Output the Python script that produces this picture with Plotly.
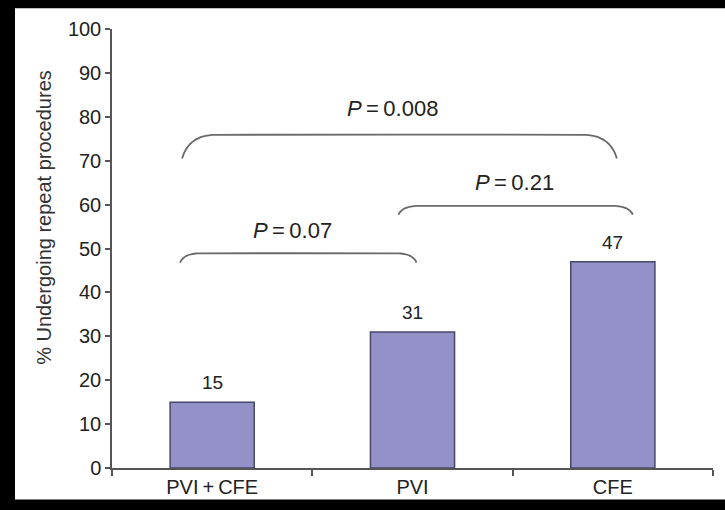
"""Repeat procedures by ablation strategy: bar chart with P-value brackets."""

import plotly.graph_objects as go

CATEGORIES = ["PVI\u2009+\u2009CFE", "PVI", "CFE"]
REPEAT_PCT = [15, 31, 47]

# comparison brackets: start/end in category units, flat height and end drop in %
BRACKET_X0 = [-0.15, 0.93, -0.16]
BRACKET_X1 = [2.02, 2.10, 1.02]
BRACKET_Y = [75.9, 59.7, 48.9]
BRACKET_DROP = [5.4, 2.0, 2.1]
P_LABELS = ["0.008", "0.21", "0.07"]
P_LABEL_X = [0.90, 1.51, 0.40]
P_LABEL_Y = [81.8, 65.1, 54.1]

Y_TICKS = list(range(0, 101, 10))

FONT = "Liberation Sans, Arial, Helvetica, sans-serif"
INK = "#222222"
AXIS = "#555555"


def bracket_path(x0, x1, y, drop, bend):
    """Points of a brace: curved ends dropping down, flat top."""
    pts_x, pts_y = [], []
    n = 14
    p0, c, p2 = (x0, y - drop), (x0 + bend * 0.2, y), (x0 + bend, y)
    for k in range(n + 1):
        t = k / n
        pts_x.append((1 - t) ** 2 * p0[0] + 2 * (1 - t) * t * c[0] + t ** 2 * p2[0])
        pts_y.append((1 - t) ** 2 * p0[1] + 2 * (1 - t) * t * c[1] + t ** 2 * p2[1])
    p0, c, p2 = (x1 - bend, y), (x1 - bend * 0.2, y), (x1, y - drop)
    for k in range(n + 1):
        t = k / n
        pts_x.append((1 - t) ** 2 * p0[0] + 2 * (1 - t) * t * c[0] + t ** 2 * p2[0])
        pts_y.append((1 - t) ** 2 * p0[1] + 2 * (1 - t) * t * c[1] + t ** 2 * p2[1])
    return pts_x, pts_y


x_idx = list(range(len(CATEGORIES)))

fig = go.Figure()
fig.add_trace(
    go.Bar(
        x=x_idx,
        y=REPEAT_PCT,
        width=0.42,
        marker=dict(color="#9490c8", line=dict(color="#48486a", width=1.5)),
        hoverinfo="x+y",
    )
)

for x0, x1, y, drop in zip(BRACKET_X0, BRACKET_X1, BRACKET_Y, BRACKET_DROP):
    bend = 0.17 if drop > 4 else 0.1
    bx, by = bracket_path(x0, x1, y, drop, bend)
    fig.add_trace(
        go.Scatter(
            x=bx, y=by, mode="lines",
            line=dict(color="#6a6a6a", width=1.8, shape="spline"),
            hoverinfo="skip",
        )
    )

annotations = []
for i, v in zip(x_idx, REPEAT_PCT):
    annotations.append(dict(
        x=i, y=v, xref="x", yref="y", text=str(v), showarrow=False,
        yanchor="bottom", yshift=7, font=dict(size=19, color=INK, family=FONT),
    ))
for txt, px, py in zip(P_LABELS, P_LABEL_X, P_LABEL_Y):
    annotations.append(dict(
        x=px, y=py, xref="x", yref="y", text=f"<i>P</i>\u2009=\u2009{txt}",
        showarrow=False, xanchor="center", yanchor="middle",
        font=dict(size=22, color=INK, family=FONT),
    ))
annotations.append(dict(
    x=-0.113, y=0.57, xref="paper", yref="paper",
    text="% Undergoing repeat procedures", textangle=-90, showarrow=False,
    xanchor="center", yanchor="middle",
    font=dict(size=20, color="#333333", family=FONT),
))

fig.update_layout(
    width=725,
    height=510,
    margin=dict(l=112, r=12, t=29, b=37),
    paper_bgcolor="black",
    plot_bgcolor="white",
    showlegend=False,
    annotations=annotations,
    shapes=[dict(
        type="rect", xref="paper", yref="paper",
        x0=-0.1614, x1=1.06, y0=-0.072, y1=1.047,
        fillcolor="white", line=dict(width=0), layer="below",
    )],
    font=dict(family=FONT, color=INK),
)
fig.update_xaxes(
    range=[-0.5, 2.5],
    tickvals=x_idx,
    ticktext=CATEGORIES,
    ticks="",
    minor=dict(ticks="outside", tick0=-0.5, dtick=1, ticklen=6, tickcolor=AXIS, tickwidth=1.5),
    showline=True, linecolor=AXIS, linewidth=1.5,
    showgrid=False, zeroline=False,
    tickfont=dict(size=20, color=INK, family=FONT),
)
fig.update_yaxes(
    range=[0, 100],
    tickvals=Y_TICKS,
    ticks="outside", ticklen=5, tickcolor=AXIS, tickwidth=1.5,
    showline=True, linecolor=AXIS, linewidth=1.5,
    showgrid=False, zeroline=False,
    tickfont=dict(size=20, color=INK, family=FONT),
)

# page body has a default 8px margin; drop it so the figure sits at the window corner
fig.write_html(
    "out.html",
    config={"displayModeBar": False},
    post_script="document.body.style.margin='0px';",
)
